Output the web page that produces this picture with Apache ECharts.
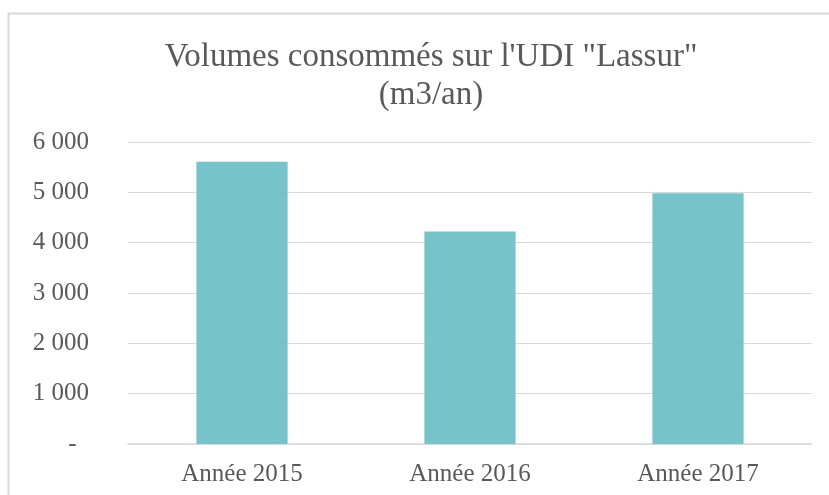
<!DOCTYPE html>
<html>
<head>
<meta charset="utf-8">
<script src="https://cdn.jsdelivr.net/npm/echarts@6/dist/echarts.min.js"></script>
<style>
html,body{margin:0;padding:0;background:#fff;}
#chart{width:829px;height:495px;}
</style>
</head>
<body>
<div id="chart"></div>
<script>
const titleText = 'Volumes consommés sur l\'UDI "Lassur"\n(m3/an)';
const categories = ['Année 2015', 'Année 2016', 'Année 2017'];
const volumes = [5610, 4220, 4980];
const yMin = 0, yMax = 6000, yStep = 1000;

function fmt(v) {
  if (v === 0) return '-  ';
  return String(v).replace(/\B(?=(\d{3})+(?!\d))/g, ' ');
}

const chart = echarts.init(document.getElementById('chart'));
chart.setOption({
  animation: false,
  backgroundColor: '#ffffff',
  graphic: [{
    type: 'rect',
    shape: { x: 8.5, y: 13.5, width: 900, height: 600 },
    style: { fill: 'none', stroke: '#d9d9d9', lineWidth: 2 },
    silent: true
  }],
  title: {
    text: titleText,
    left: 426,
    top: 33,
    textAlign: 'center',
    textStyle: {
      fontFamily: 'Liberation Serif',
      fontSize: 33,
      fontWeight: 'normal',
      color: '#595959',
      lineHeight: 38
    }
  },
  grid: { left: 128, right: 17, top: 142, bottom: 51, containLabel: false },
  xAxis: {
    type: 'category',
    data: categories,
    axisLine: { lineStyle: { color: '#d9d9d9', width: 1.5 } },
    axisTick: { show: false },
    axisLabel: {
      margin: 18,
      fontFamily: 'Liberation Serif',
      fontSize: 25,
      color: '#595959'
    }
  },
  yAxis: {
    type: 'value',
    min: yMin,
    max: yMax,
    interval: yStep,
    axisLine: { show: false },
    axisTick: { show: false },
    splitLine: { lineStyle: { color: '#d9d9d9', width: 1 } },
    axisLabel: {
      margin: 39,
      fontFamily: 'Liberation Serif',
      fontSize: 25,
      color: '#595959',
      formatter: fmt
    }
  },
  series: [{
    type: 'bar',
    data: volumes,
    barCategoryGap: '60%',
    itemStyle: { color: '#76c4c9' }
  }]
});
</script>
</body>
</html>
